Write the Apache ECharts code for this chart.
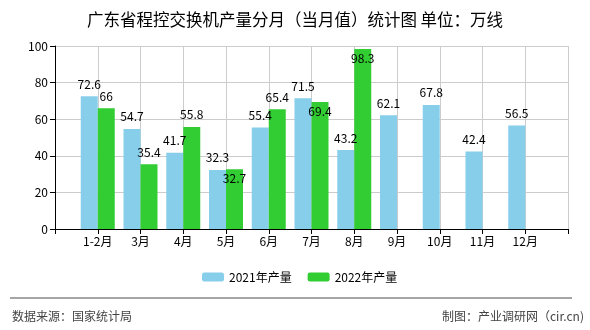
<!DOCTYPE html>
<html>
<head>
<meta charset="utf-8">
<script src="https://cdn.jsdelivr.net/npm/echarts@6/dist/echarts.min.js"></script>
<style>
html,body{margin:0;padding:0;background:#fff;}
#c{width:590px;height:330px;}
</style>
</head>
<body>
<div id="c"></div>
<script>
var categories = ['1-2月','3月','4月','5月','6月','7月','8月','9月','10月','11月','12月'];
var values2021 = [72.6, 54.7, 41.7, 32.3, 55.4, 71.5, 43.2, 62.1, 67.8, 42.4, 56.5];
var values2022 = [66, 35.4, 55.8, 32.7, 65.4, 69.4, 98.3];
var yTicks = [0, 20, 40, 60, 80, 100];
var insideLabelMonths2022 = ['5月','7月','8月'];
var seriesNames = ['2021年产量','2022年产量'];

var FONT = '"Noto Sans CJK SC", "Noto Sans", sans-serif';
var axisCats = [''].concat(categories).concat(['']);

function buildData(vals, insideList) {
  var out = ['-'];
  for (var i = 0; i < categories.length; i++) {
    if (i < vals.length) {
      var item = { value: vals[i] };
      if (insideList && insideList.indexOf(categories[i]) >= 0) {
        item.label = { position: 'insideTop', distance: 3 };
      }
      out.push(item);
    } else {
      out.push('-');
    }
  }
  out.push('-');
  return out;
}

var chart = echarts.init(document.getElementById('c'));
chart.setOption({
  animation: false,
  backgroundColor: '#fff',
  title: {
    text: '广东省程控交换机产量分月（当月值）统计图 单位：万线',
    left: 'center',
    top: 6,
    textStyle: { fontSize: 16.5, fontWeight: 'normal', color: '#000', fontFamily: FONT }
  },
  legend: {
    left: 197,
    top: 266,
    itemWidth: 22,
    itemHeight: 9,
    itemGap: 16,
    textStyle: { fontSize: 12, color: '#000', fontFamily: FONT },
    data: seriesNames
  },
  grid: { left: 55, right: 22, top: 46, bottom: 101, containLabel: false },
  xAxis: {
    type: 'category',
    boundaryGap: false,
    data: axisCats,
    axisLine: { lineStyle: { color: '#000', width: 1 } },
    axisTick: { show: true, length: 5, lineStyle: { color: '#000' } },
    axisLabel: { color: '#000', fontSize: 12, margin: 6, fontFamily: FONT, interval: 0 },
    splitLine: { show: true, lineStyle: { color: '#cccccc' } }
  },
  yAxis: {
    type: 'value',
    min: yTicks[0],
    max: yTicks[yTicks.length - 1],
    interval: yTicks[1] - yTicks[0],
    axisLine: { show: true, lineStyle: { color: '#000', width: 1 } },
    axisTick: { show: true, length: 5, lineStyle: { color: '#000' } },
    axisLabel: { color: '#000', fontSize: 12, margin: 7, fontFamily: FONT },
    splitLine: { show: true, lineStyle: { color: '#cccccc' } }
  },
  series: [
    {
      name: seriesNames[0],
      type: 'bar',
      barWidth: 17,
      barGap: '0%',
      itemStyle: { color: '#87CEEB' },
      label: { show: true, position: 'top', distance: 6, color: '#000', fontSize: 12, fontFamily: FONT },
      data: buildData(values2021)
    },
    {
      name: seriesNames[1],
      type: 'bar',
      barWidth: 17,
      barGap: '0%',
      itemStyle: { color: '#32CD32' },
      label: { show: true, position: 'top', distance: 6, color: '#000', fontSize: 12, fontFamily: FONT },
      data: buildData(values2022, insideLabelMonths2022)
    }
  ],
  graphic: [
    { type: 'line', shape: { x1: 10, y1: 298, x2: 572, y2: 298 }, style: { stroke: '#888', lineWidth: 1.5 } },
    { type: 'text', left: 12, top: 310, style: { text: '数据来源：国家统计局', fontSize: 12, fill: '#444', fontFamily: FONT } },
    { type: 'text', right: 6, top: 310, style: { text: '制图：产业调研网（cir.cn)', fontSize: 12, fill: '#444', fontFamily: FONT } }
  ]
});
</script>
</body>
</html>
